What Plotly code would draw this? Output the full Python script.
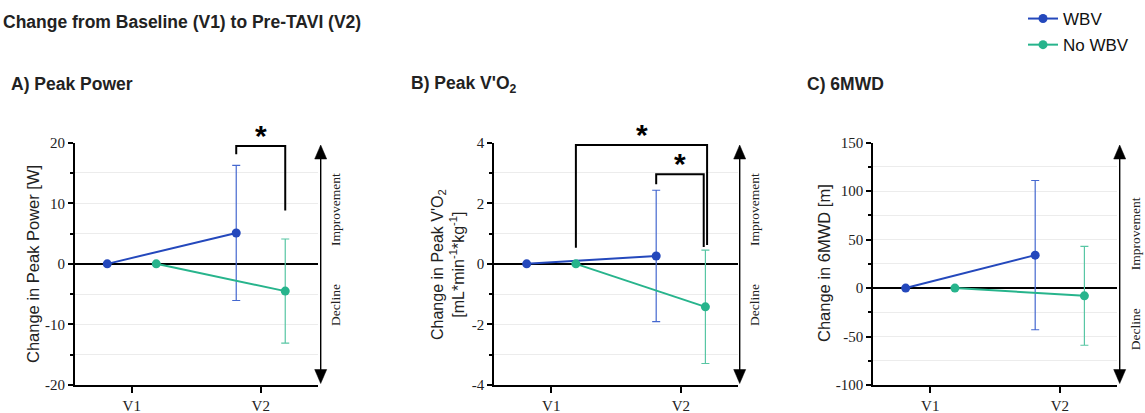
import plotly.graph_objects as go

# ---------------- data ----------------
visits = ["V1", "V2"]
groups = ["WBV", "No WBV"]

power_wbv = [0, 5.1]
power_wbv_err = [None, 11.15]
power_no = [0, -4.5]
power_no_err = [None, 8.6]

vo2_wbv = [0, 0.26]
vo2_wbv_err = [None, 2.17]
vo2_no = [0, -1.42]
vo2_no_err = [None, 1.87]

mwd_wbv = [0, 34]
mwd_wbv_err = [None, 77]
mwd_no = [0, -8]
mwd_no_err = [None, 51]

ticks_power = [-20, -10, 0, 10, 20]
ticks_vo2 = [-4, -2, 0, 2, 4]
ticks_mwd = [-100, -50, 0, 50, 100, 150]
minor_power = [-15, -5, 5, 15]
minor_vo2 = [-3, -1, 1, 3]
minor_mwd = [-75, -25, 25, 75, 125]

# ---------------- style ----------------
W, H = 1145, 413
C_WBV = "#2448BC"
C_NO = "#27B48C"
C_WBV_ERR = "#4467CF"
C_NO_ERR = "#58C6A4"
SANS = "Arial, Liberation Sans, sans-serif"
SERIF = "Liberation Serif, Times New Roman, serif"
OFF = 0.19
TOP, BOT = 142.7, 385.0


def px(x):
    return x / W


def py(y):
    return 1 - y / H


panels = [
    dict(x0=75.0, x1=318.0, wbv=power_wbv, wbv_e=power_wbv_err, no=power_no, no_e=power_no_err,
         ticks=ticks_power, minor=minor_power, arrow_x=320.7),
    dict(x0=494.3, x1=738.3, wbv=vo2_wbv, wbv_e=vo2_wbv_err, no=vo2_no, no_e=vo2_no_err,
         ticks=ticks_vo2, minor=minor_vo2, arrow_x=739.7),
    dict(x0=873.3, x1=1117.3, wbv=mwd_wbv, wbv_e=mwd_wbv_err, no=mwd_no, no_e=mwd_no_err,
         ticks=ticks_mwd, minor=minor_mwd, arrow_x=1119.7),
]

fig = go.Figure()
shapes = []
annotations = []

xpos = list(range(len(visits)))

for i, p in enumerate(panels):
    n = "" if i == 0 else str(i + 1)
    xa, ya = "x" + n, "y" + n
    fig.add_trace(go.Scatter(
        x=[v - OFF for v in xpos], y=p["wbv"], mode="lines+markers", name=groups[0],
        xaxis=xa, yaxis=ya, showlegend=(i == 0), legendgroup="a",
        line=dict(color=C_WBV, width=2), marker=dict(color=C_WBV, size=9),
        error_y=dict(type="data", array=p["wbv_e"], color=C_WBV_ERR, thickness=1.2, width=4),
        cliponaxis=False,
    ))
    fig.add_trace(go.Scatter(
        x=[v + OFF for v in xpos], y=p["no"], mode="lines+markers", name=groups[1],
        xaxis=xa, yaxis=ya, showlegend=(i == 0), legendgroup="b",
        line=dict(color=C_NO, width=2), marker=dict(color=C_NO, size=9),
        error_y=dict(type="data", array=p["no_e"], color=C_NO_ERR, thickness=1.2, width=4),
        cliponaxis=False,
    ))
    lo, hi = min(p["ticks"]), max(p["ticks"])
    fig.update_layout(**{
        "xaxis" + n: dict(
            domain=[px(p["x0"]), px(p["x1"])], range=[-0.44, 1.444], anchor=ya,
            tickmode="array", tickvals=xpos, ticktext=visits, automargin=False,
            showline=True, linecolor="black", linewidth=2,
            ticks="outside", ticklen=6, tickwidth=2, tickcolor="black",
            showgrid=False, zeroline=False,
            tickfont=dict(family=SERIF, size=15, color="#222"),
        ),
        "yaxis" + n: dict(
            domain=[py(BOT), py(TOP)], range=[lo, hi], anchor=xa, automargin=False,
            tickmode="array", tickvals=p["ticks"], ticktext=[str(t) for t in p["ticks"]],
            showline=True, linecolor="black", linewidth=2,
            ticks="outside", ticklen=5, tickwidth=2, tickcolor="black",
            showgrid=True, gridcolor="#ececec", gridwidth=1,
            zeroline=True, zerolinecolor="black", zerolinewidth=2,
            minor=dict(tickvals=p["minor"], ticks="outside", ticklen=3, tickwidth=2,
                       tickcolor="black", showgrid=True, gridcolor="#ececec", gridwidth=1),
            tickfont=dict(family=SERIF, size=15, color="#222"),
        ),
    })

    # improvement / decline arrow
    ax = p["arrow_x"]
    ytop, ybot = 145.0, 383.5
    hh, hw = 14.0, 6.0
    shapes.append(dict(type="line", xref="paper", yref="paper",
                       x0=px(ax), x1=px(ax), y0=py(ytop + hh - 1), y1=py(ybot - hh + 1),
                       line=dict(color="black", width=1.4)))
    shapes.append(dict(type="path", xref="paper", yref="paper",
                       path=f"M {px(ax)} {py(ytop)} L {px(ax - hw)} {py(ytop + hh)} L {px(ax + hw)} {py(ytop + hh)} Z",
                       fillcolor="black", line=dict(color="black", width=0.5)))
    shapes.append(dict(type="path", xref="paper", yref="paper",
                       path=f"M {px(ax)} {py(ybot)} L {px(ax - hw)} {py(ybot - hh)} L {px(ax + hw)} {py(ybot - hh)} Z",
                       fillcolor="black", line=dict(color="black", width=0.5)))
    zero_py = TOP + (hi - 0) / (hi - lo) * (BOT - TOP)
    annotations.append(dict(text="Improvement", xref="paper", yref="paper", x=px(ax + 15.5), y=py(zero_py - 54),
                            showarrow=False, textangle=-90, xanchor="center", yanchor="middle",
                            font=dict(family=SERIF, size=13.5, color="#222")))
    annotations.append(dict(text="Decline", xref="paper", yref="paper", x=px(ax + 15.5), y=py(zero_py + 41),
                            showarrow=False, textangle=-90, xanchor="center", yanchor="middle",
                            font=dict(family=SERIF, size=13.5, color="#222")))

# significance brackets (data coords)
def bracket(xr, yr, xl, xr2, ytop, yl, yr2):
    shapes.append(dict(type="path", xref=xr, yref=yr,
                       path=f"M {xl} {yl} L {xl} {ytop} L {xr2} {ytop} L {xr2} {yr2}",
                       line=dict(color="black", width=2)))

bracket("x", "y", 1 - OFF, 1 + OFF, 19.45, 18.1, 8.8)
bracket("x2", "y2", 0 + OFF, 1 + OFF + 0.013, 3.92, 0.53, 0.62)
bracket("x2", "y2", 1 - OFF, 1 + OFF - 0.013, 2.955, 2.63, 0.56)

for xr, xv, ypx in [("x", 1.0, 135), ("x2", 0.70, 134), ("x2", 0.995, 163)]:
    annotations.append(dict(text="<b>*</b>", xref=xr, yref="paper", x=xv, y=py(ypx),
                            showarrow=False, xanchor="center", yanchor="middle",
                            font=dict(family=SANS, size=30, color="black")))

# y-axis labels
annotations.append(dict(text="Change in Peak Power [W]", xref="paper", yref="paper",
                        x=px(33), y=py(264), showarrow=False, textangle=-90,
                        xanchor="center", yanchor="middle",
                        font=dict(family=SANS, size=16.5, color="#222")))
annotations.append(dict(text="Change in Peak V'O<sub>2</sub><br>[mL*min<sup>-1</sup>*kg<sup>-1</sup>]",
                        xref="paper", yref="paper", x=px(448), y=py(265), showarrow=False, textangle=-90,
                        xanchor="center", yanchor="middle",
                        font=dict(family=SANS, size=16, color="#222")))
annotations.append(dict(text="Change in 6MWD [m]", xref="paper", yref="paper",
                        x=px(824), y=py(263), showarrow=False, textangle=-90,
                        xanchor="center", yanchor="middle",
                        font=dict(family=SANS, size=16.5, color="#222")))

# titles
annotations.append(dict(text="<b>Change from Baseline (V1) to Pre-TAVI (V2)</b>", xref="paper", yref="paper",
                        x=px(1), y=py(22), xanchor="left", yanchor="middle", showarrow=False,
                        font=dict(family=SANS, size=17.5, color="#222")))
for t, xx in [("A) Peak Power", 9), ("B) Peak V'O<sub>2</sub>", 409), ("C) 6MWD", 805)]:
    annotations.append(dict(text=f"<b>{t}</b>", xref="paper", yref="paper",
                            x=px(xx), y=py(84), xanchor="left", yanchor="middle", showarrow=False,
                            font=dict(family=SANS, size=17.5, color="#222")))

fig.update_layout(
    template="none",
    width=W, height=H, margin=dict(l=0, r=0, t=0, b=0, autoexpand=False),
    paper_bgcolor="white", plot_bgcolor="white",
    shapes=shapes, annotations=annotations,
    showlegend=True,
    legend=dict(x=px(1023), y=py(1), xanchor="left", yanchor="top",
                traceorder="grouped", tracegroupgap=1,
                font=dict(family=SANS, size=17, color="#111"),
                bgcolor="rgba(0,0,0,0)", itemwidth=30),
)

fig.write_html("out.html", config={"displayModeBar": False},
               post_script="document.body.style.margin='0px';")
